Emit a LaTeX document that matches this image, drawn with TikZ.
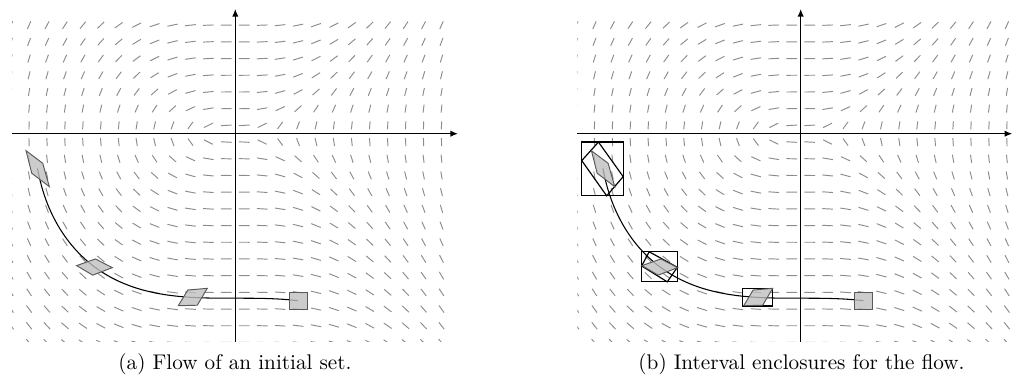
\documentclass[tikz,border=0pt]{standalone}
\usepackage{tikz}
\usetikzlibrary{arrows.meta}

% slope field and axes (grid units)
\newcommand{\flowpanel}[1]{%
    \begin{scope}
        \clip (-12.45,-12.45) rectangle (12.45,7.45);
        \foreach \xi in {-12.5,-11.5,...,11.5}
            \foreach \yj in {-12.5,-11.5,...,6.5} {
                \pgfmathsetmacro\fp{\yj/2.52}
                \pgfmathsetmacro\fq{0.11*\xi*\xi/1.9}
                \pgfmathsetmacro\fn{sqrt(\fp*\fp+\fq*\fq)}
                \pgfmathsetmacro\ax{-2.52*\fp/\fn}
                \pgfmathsetmacro\ay{-1.9*\fq/\fn}
                \pgfmathsetmacro\bx{-2*\ax}
                \pgfmathsetmacro\by{-2*\ay}
                \draw[field] (\xi,\yj) ++(\ax pt,\ay pt) -- ++(\bx pt,\by pt);
            }
    \end{scope}
    \draw[axis] (-12.45,0) -- (#1,0);
    \draw[axis] (0,-12.45) -- (0,7.47);
}
% trajectory and transported sets
\newcommand{\flowsets}{%
    \draw[traj] plot[domain=3.5:-11.03, samples=120] (\x,{-sqrt(2*(48.52+0.03454*\x*\x*\x))});
    \filldraw[flowset] (3,-10.5) rectangle (4,-9.5);
    \filldraw[flowset] (-3.18,-10.3) -- (-2.65,-9.36) -- (-1.56,-9.26) -- (-2.12,-10.27) -- cycle;
    \filldraw[flowset] (-8.85,-7.9) -- (-7.8,-7.5) -- (-6.86,-8.02) -- (-7.95,-8.47) -- cycle;
    \filldraw[flowset] (-11.67,-1.02) -- (-10.74,-1.77) -- (-10.37,-3.17) -- (-11.35,-2.37) -- cycle;
}

\begin{document}
\begin{tikzpicture}[
    field/.style={draw=black!45, line width=0.45pt},
    axis/.style={draw=black, line width=0.6pt, -{Latex[length=3.6pt, width=3pt]}},
    traj/.style={draw=black, line width=0.5pt},
    flowset/.style={fill=black!25, draw=black!65, line width=0.45pt, fill opacity=0.8},
    encl/.style={draw=black, line width=0.55pt},
    caption/.style={anchor=base, font=\normalsize}
]
    \useasboundingbox (0,0) rectangle (478.78pt,183.02pt);

    % (a) flow of the initial set
    \begin{scope}[shift={(110.99pt,119.95pt)}, x=8.458pt, y=7.877pt]
        \flowpanel{12.42}
        \flowsets
    \end{scope}

    % (b) interval enclosures
    \begin{scope}[shift={(377.69pt,119.95pt)}, x=8.458pt, y=7.877pt]
        \flowpanel{11.8}
        \draw[encl] (-12.21,-3.72) rectangle (-9.9,-0.5);
        \draw[encl] (-11.28,-0.5) -- (-9.9,-2.57) -- (-10.82,-3.72) -- (-12.21,-1.61) -- cycle;
        \draw[encl] (-8.87,-8.87) rectangle (-6.88,-7.07);
        \draw[encl] (-8.45,-7.07) -- (-6.88,-8.0) -- (-7.44,-8.87) -- (-8.87,-7.92) -- cycle;
        \draw[encl] (-3.24,-10.32) rectangle (-1.58,-9.26);
        \flowsets
    \end{scope}

    \node[caption] (capa) at (110.85pt,8.5pt) {(a) Flow of an initial set.};
    \node[caption] (capb) at (378.07pt,8.5pt) {(b) Interval enclosures for the flow.};
\end{tikzpicture}
\end{document}
